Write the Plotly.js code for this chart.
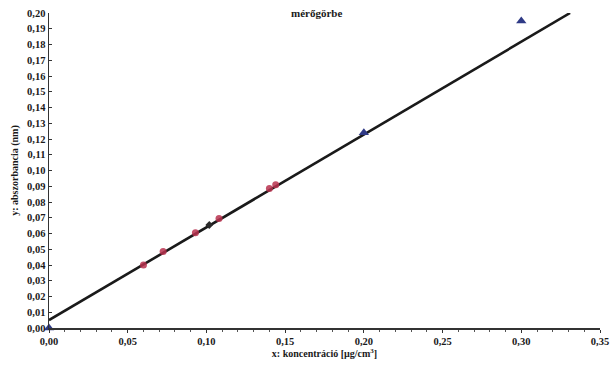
<!DOCTYPE html>
<html>
<head>
<meta charset="utf-8">
<script src="https://cdn.plot.ly/plotly-3.0.1.min.js"></script>
<style>html,body{margin:0;padding:0;background:#fff;}#chart{width:614px;height:366px;}</style>
</head>
<body>
<div id="chart"></div>
<script>
// Calibration points (red circles)
const calX = [0.060, 0.0725, 0.093, 0.108, 0.140, 0.144];
const calY = [0.040, 0.0485, 0.0605, 0.0695, 0.0885, 0.0910];
// Sample point (dark small marker)
const sampleX = [0.1018];
const sampleY = [0.0654];
// Triangles
const triX = [0.000, 0.200, 0.300];
const triY = [0.000, 0.124, 0.195];
// Fitted line endpoints
const lineX = [0.000, 0.331];
const lineY = [0.005, 0.200];

const serif = 'Liberation Serif, Times New Roman, serif';

const traces = [
  {x: lineX, y: lineY, mode: 'lines', type: 'scatter',
   line: {color: '#1a1a1a', width: 2.6}, hoverinfo: 'skip', showlegend: false},
  {x: triX, y: triY, mode: 'markers', type: 'scatter', cliponaxis: false,
   marker: {symbol: 'triangle-up', size: 9, color: '#2f3a86'}, showlegend: false},
  {x: calX, y: calY, mode: 'markers', type: 'scatter',
   marker: {symbol: 'circle', size: 7, color: '#b8324f', opacity: 0.85}, showlegend: false},
  {x: sampleX, y: sampleY, mode: 'markers', type: 'scatter',
   marker: {symbol: 'diamond', size: 6, color: '#2a2a2a'}, showlegend: false}
];

const layout = {
  width: 614, height: 366,
  margin: {l: 49, r: 14, t: 13, b: 38},
  paper_bgcolor: '#fff', plot_bgcolor: '#fff',
  separators: ', ',
  showlegend: false,
  font: {family: serif, color: '#222', size: 10},
  xaxis: {
    range: [0, 0.35], dtick: 0.05, tickformat: '.2f',
    showgrid: false, zeroline: false,
    showline: true, linecolor: '#333', linewidth: 1.5,
    ticks: 'outside', ticklen: 3, tickcolor: '#333',
    minor: {dtick: 0.01, ticks: 'outside', ticklen: 2, tickcolor: '#555'},
    tickfont: {family: serif, size: 10.5, color: '#1a1a1a', weight: 700},
    title: {text: '<b>x: koncentráció [µg/cm<sup>3</sup>]</b>', font: {family: serif, size: 10, color: '#1a1a1a'}, standoff: 4}
  },
  yaxis: {
    range: [0, 0.2], dtick: 0.01, tickformat: '.2f',
    showgrid: false, zeroline: false,
    showline: true, linecolor: '#333', linewidth: 1.5,
    ticks: 'inside', ticklen: 3, tickcolor: '#333',
    tickfont: {family: serif, size: 10.5, color: '#1a1a1a', weight: 700},
    title: {text: '<b>y: abszorbancia (nm)</b>', font: {family: serif, size: 10, color: '#1a1a1a'}, standoff: 6}
  },
  annotations: [{
    text: '<b>mérőgörbe</b>', xref: 'paper', yref: 'paper', x: 0.486, y: 1.0,
    xanchor: 'center', yanchor: 'middle', showarrow: false,
    font: {family: serif, size: 11, color: '#1a1a1a'}
  }]
};

Plotly.newPlot('chart', traces, layout, {displayModeBar: false, staticPlot: true});
</script>
</body>
</html>
